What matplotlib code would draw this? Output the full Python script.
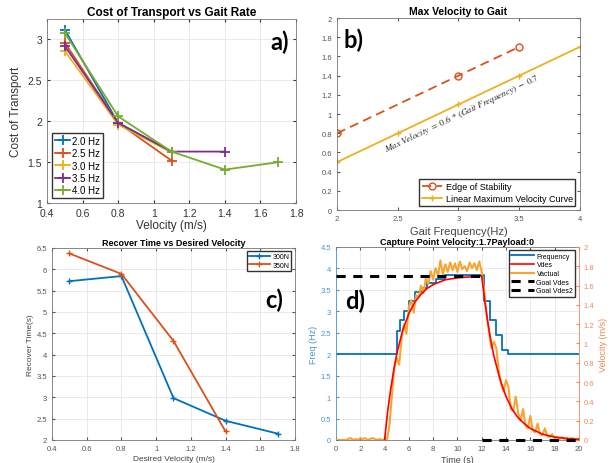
import numpy as np
import matplotlib
matplotlib.use('Agg')
import matplotlib.pyplot as plt

plt.rcParams['font.family'] = ['Liberation Sans', 'DejaVu Sans']
plt.rcParams['mathtext.fontset'] = 'stix'

# MATLAB default colours
BLUE = '#0072BD'
RED = '#D95319'
YEL = '#EDB120'
PUR = '#7E2F8E'
GRN = '#77AC30'

# panel a) cost of transport
cot_vel = [0.5, 0.8, 1.1, 1.4, 1.7]
cot_labels = ['2.0 Hz', '2.5 Hz', '3.0 Hz', '3.5 Hz', '4.0 Hz']
cot_20 = [3.12, 1.98, 1.63]
cot_25 = [2.96, 1.98, 1.52]
cot_30 = [2.86, 1.96, 1.62]
cot_35 = [2.92, 1.98, 1.63, 1.63]
cot_40 = [3.08, 2.06, 1.63, 1.41, 1.50]

# panel b) max velocity vs gait
edge_freq = [2, 3, 3.5]
edge_vel = [0.8, 1.4, 1.7]
lin_freq = [2, 2.5, 3, 3.5, 4]
lin_vel = [0.5, 0.8, 1.1, 1.4, 1.7]

# panel c) recover time
rec_vel_300 = [0.5, 0.8, 1.1, 1.4, 1.7]
rec_t_300 = [5.72, 5.84, 2.98, 2.45, 2.15]
rec_vel_350 = [0.5, 0.8, 1.1, 1.4]
rec_t_350 = [6.37, 5.89, 4.32, 2.2]

# panel d) capture point velocity
freq_t = [0, 5.0, 5.3, 5.6, 6.0, 6.5, 7.0, 7.5, 8.2, 9.0, 12.2, 12.7, 13.2, 13.7, 14.2, 20]
freq_v = [2.0, 2.55, 2.8, 3.0, 3.25, 3.45, 3.55, 3.65, 3.75, 3.85, 3.25, 2.8, 2.45, 2.1, 2.0, 2.0]
vdes_t = [4, 4.25, 4.5, 4.75, 5, 5.5, 6, 6.5, 7, 7.5, 8, 9, 10, 11, 12,
          12.25, 12.5, 12.75, 13, 13.5, 14, 14.5, 15, 15.5, 16, 17, 18, 19, 20]
vdes_v = [0, 0.29, 0.52, 0.72, 0.89, 1.14, 1.31, 1.43, 1.51, 1.57, 1.61, 1.66, 1.68, 1.69, 1.70,
          1.44, 1.22, 1.03, 0.87, 0.63, 0.45, 0.32, 0.23, 0.17, 0.12, 0.06, 0.03, 0.016, 0.008]
# sampled every 0.2 s
vact_v = [0, 0, 0, 0, 0, 0.01, 0.02, 0, 0.01, 0, 0.02, 0.01, 0.02, 0, 0.01, 0.02, 0.01, 0, 0.01, 0, 0,
          0.0, 0.15, 0.45, 0.75, 0.85, 0.78, 1.05, 1.2, 1.1, 1.38, 1.45, 1.32, 1.5, 1.48,
          1.6, 1.52, 1.68, 1.62, 1.75, 1.66, 1.78, 1.7, 1.86, 1.72, 1.82, 1.74, 1.84, 1.76, 1.83,
          1.74, 1.85, 1.77, 1.8, 1.75, 1.84, 1.78, 1.83, 1.76, 1.85, 1.74,
          1.55, 1.3, 1.12, 0.95, 1.02, 0.95, 0.72, 0.58, 0.5, 0.62, 0.55, 0.32, 0.3, 0.45,
          0.28, 0.2, 0.32, 0.15, 0.12, 0.25, 0.1, 0.08, 0.17, 0.06, 0.05, 0.12, 0.04, 0.03, 0.06,
          0.02, 0.03, 0.01, 0.03, 0.01, 0.02, 0.0, 0.02, 0.01, 0.0, 0.01]
vact_t = np.arange(len(vact_v)) * 0.2
goal_t = [0, 12]
goal_v = [1.7, 1.7]
goal2_t = [12, 20]
goal2_v = [0, 0]

fig = plt.figure(figsize=(6.15, 4.64), dpi=100)

def style(ax, fs, grid=True):
    ax.tick_params(direction='in', length=2.5, labelsize=fs, colors='#555555', top=True, right=True)
    for s in ax.spines.values():
        s.set_color('#777777')
        s.set_linewidth(0.6)
    if grid:
        ax.grid(True, color='#e6e6e6', linewidth=0.6)
        ax.set_axisbelow(True)

# ---- a)
ax = fig.add_axes([0.0764, 0.560, 0.405, 0.397])
series = [cot_20, cot_25, cot_30, cot_35, cot_40]
cols = [BLUE, RED, YEL, PUR, GRN]
for ys, c, lab in zip(series, cols, cot_labels):
    ax.plot(cot_vel[:len(ys)], ys, color=c, marker='+', markersize=7, mew=1.3, lw=1.3, label=lab)
ax.set_xlim(0.4, 1.8)
ax.set_ylim(1, 3.25)
ax.set_xticks(np.arange(0.4, 1.81, 0.2))
ax.set_xticklabels(['0.4', '0.6', '0.8', '1', '1.2', '1.4', '1.6', '1.8'])
ax.set_yticks([1, 1.5, 2, 2.5, 3])
ax.set_yticklabels(['1', '1.5', '2', '2.5', '3'])
style(ax, 7.5)
ax.tick_params(colors='#333333')
ax.set_title('Cost of Transport vs Gait Rate', fontsize=8.5, fontweight='bold', pad=3)
ax.set_xlabel('Velocity (m/s)', fontsize=8.5, color='#333333', labelpad=1)
ax.set_ylabel('Cost of Transport', fontsize=8.5, color='#333333', labelpad=4)
ax.legend(loc='lower left', fontsize=7, handlelength=1.6, handletextpad=0.2, labelspacing=0.25,
          borderpad=0.3, fancybox=False, edgecolor='#333333', framealpha=1)
ax.text(0.895, 0.88, 'a)', transform=ax.transAxes, fontsize=17, fontweight='bold',
        family=['Lato', 'DejaVu Sans'], va='center')

# ---- b)
ax = fig.add_axes([0.548, 0.545, 0.395, 0.414])
ax.plot(edge_freq, edge_vel, color=RED, ls='--', dashes=(5, 3), marker='o', mfc='none',
        markersize=5, lw=1.3, label='Edge of Stability')
ax.plot(lin_freq, lin_vel, color=YEL, marker='+', markersize=4, lw=1.3,
        label='Linear Maximum Velocity Curve')
ax.set_xlim(2, 4)
ax.set_ylim(0, 2)
ax.set_xticks([2, 2.5, 3, 3.5, 4])
ax.set_xticklabels(['2', '2.5', '3', '3.5', '4'])
ax.set_yticks(np.arange(0, 2.01, 0.2))
ax.set_yticklabels(['0', '0.2', '0.4', '0.6', '0.8', '1', '1.2', '1.4', '1.6', '1.8', '2'])
style(ax, 5.5, grid=False)
ax.set_title('Max Velocity to Gait', fontsize=7.5, fontweight='bold', pad=3)
ax.set_xlabel('Gait Frequency(Hz)', fontsize=8, color='#444444', labelpad=3)
ax.legend(loc='lower right', fontsize=6.5, handlelength=2.2, handletextpad=0.4, labelspacing=0.3,
          borderpad=0.3, fancybox=False, edgecolor='#333333', framealpha=1)
ax.text(2.37, 0.70, r'$Max\ Velocity\ =\ 0.6\,*\,(Gait\ Frequency)\ -\ 0.7$', fontsize=6.5,
        rotation=25.4, rotation_mode='anchor', ha='left', va='top', color='#222222')
ax.text(0.025, 0.89, 'b)', transform=ax.transAxes, fontsize=17, fontweight='bold',
        family=['Lato', 'DejaVu Sans'], va='center')

# ---- c)
ax = fig.add_axes([0.0846, 0.0496, 0.395, 0.414])
ax.plot(rec_vel_300, rec_t_300, color=BLUE, marker='+', markersize=4, lw=1.3, label='300N')
ax.plot(rec_vel_350, rec_t_350, color=RED, marker='+', markersize=4, lw=1.3, label='350N')
ax.set_xlim(0.4, 1.8)
ax.set_ylim(2, 6.5)
ax.set_xticks(np.arange(0.4, 1.81, 0.2))
ax.set_xticklabels(['0.4', '0.6', '0.8', '1', '1.2', '1.4', '1.6', '1.8'])
ax.set_yticks(np.arange(2, 6.51, 0.5))
ax.set_yticklabels(['2', '2.5', '3', '3.5', '4', '4.5', '5', '5.5', '6', '6.5'])
style(ax, 5.5)
ax.set_title('Recover Time vs Desired Velocity', fontsize=6.5, fontweight='bold', pad=2)
ax.set_xlabel('Desired Velocity (m/s)', fontsize=6, color='#444444', labelpad=2)
ax.set_ylabel('Recover Time(s)', fontsize=6, color='#444444', labelpad=2)
ax.legend(loc='upper right', fontsize=5, handlelength=3, handletextpad=0.4, labelspacing=0.2,
          borderpad=0.3, fancybox=False, edgecolor='#333333', framealpha=1)
ax.text(0.877, 0.73, 'c)', transform=ax.transAxes, fontsize=17, fontweight='bold',
        family=['Lato', 'DejaVu Sans'], va='center')

# ---- d)
ax = fig.add_axes([0.5463, 0.0496, 0.395, 0.416])
ax2 = ax.twinx()
h1, = ax.plot(freq_t, freq_v, color=BLUE, drawstyle='steps-post', lw=1.3, label='Frequency')
h3, = ax2.plot(vact_t, vact_v, color='#F7A531', lw=1.5, label='Vactual')
h2, = ax2.plot(vdes_t, vdes_v, color='#FF0000', lw=1.2, label='Vdes')
h4, = ax2.plot(goal_t, goal_v, color='black', ls='--', dashes=(3, 2.5), lw=2.2, label='Goal Vdes')
h5, = ax2.plot(goal2_t, goal2_v, color='black', ls='--', dashes=(3, 2.5), lw=2.2, label='Goal Vdes2',
               clip_on=False)
ax.set_xlim(0, 20)
ax.set_ylim(0, 4.5)
ax2.set_ylim(0, 2)
ax.set_xticks(np.arange(0, 21, 2))
ax.set_yticks(np.arange(0, 4.51, 0.5))
ax.set_yticklabels(['0', '0.5', '1', '1.5', '2', '2.5', '3', '3.5', '4', '4.5'])
ax2.set_yticks(np.arange(0, 2.01, 0.2))
ax2.set_yticklabels(['0', '0.2', '0.4', '0.6', '0.8', '1', '1.2', '1.4', '1.6', '1.8', '2'])
style(ax, 5.5)
ax.tick_params(right=False)
ax.tick_params(axis='y', colors='#4a95d0')
ax2.tick_params(direction='in', length=2.5, labelsize=5.5, colors='#ec8a5a')
for s in ax2.spines.values():
    s.set_visible(False)
ax.spines['left'].set_color('#4a95d0')
ax.spines['right'].set_color('#ec8a5a')
ax.set_title('Capture Point Velocity:1.7Payload:0', fontsize=6.5, fontweight='bold', pad=2)
ax.set_xlabel('Time (s)', fontsize=6.5, color='#444444', labelpad=2)
ax.set_ylabel('Freq (Hz)', fontsize=6.5, color='#4a95d0', labelpad=2)
ax2.set_ylabel('Velocity (m/s)', fontsize=6.5, color='#ec8a5a', labelpad=3)
ax2.legend([h1, h2, h3, h4, h5], ['Frequency', 'Vdes', 'Vactual', 'Goal Vdes', 'Goal Vdes2'],
           loc='upper right', fontsize=5, handlelength=3.2, handletextpad=0.4, labelspacing=0.25,
           borderpad=0.3, fancybox=False, edgecolor='#333333', framealpha=1)
ax.text(0.037, 0.725, 'd)', transform=ax.transAxes, fontsize=17, fontweight='bold',
        family=['Lato', 'DejaVu Sans'], va='center', zorder=5)

fig.savefig('out.png', dpi=100)
